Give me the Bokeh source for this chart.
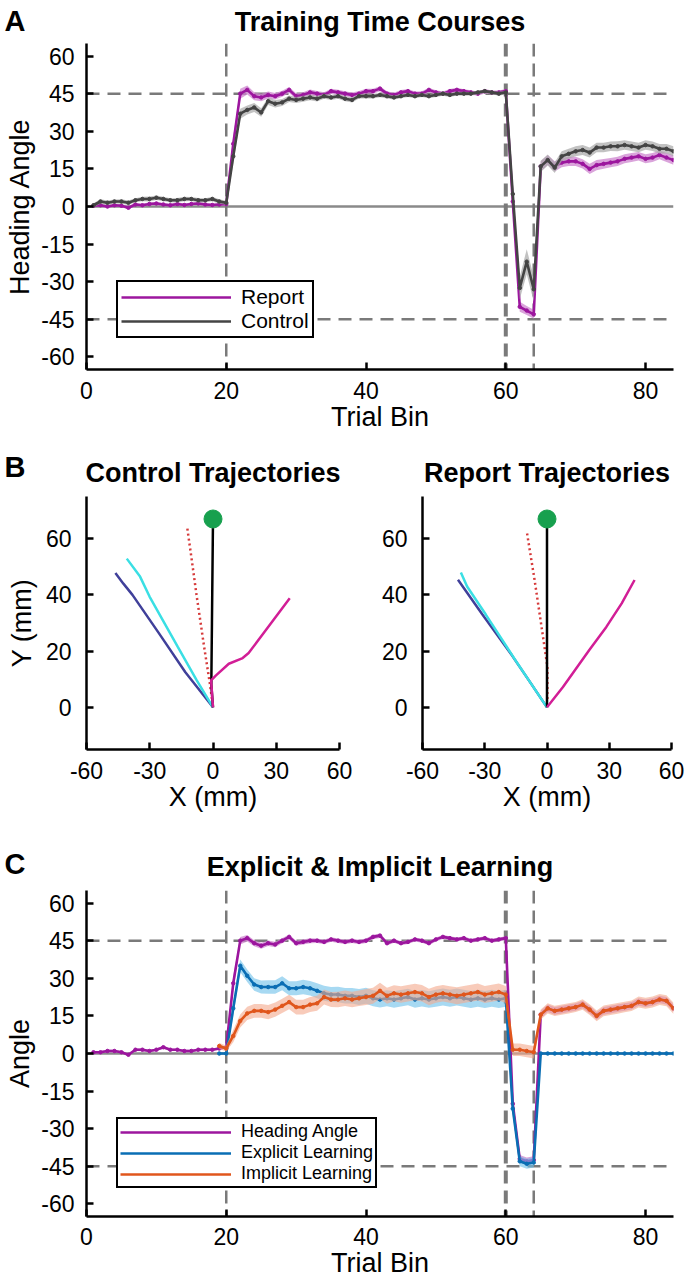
import numpy as np
from bokeh.plotting import figure
from bokeh.models import Range1d, FixedTicker, Span, Legend, LegendItem, Title
from bokeh.layouts import column, row
from bokeh.embed import file_html
from bokeh.resources import INLINE

FONT = "Liberation Sans"

# ---------------- data ----------------
bins = list(range(1, 85))
bins_learn = list(range(19, 85))

x_ticks = [0, 20, 40, 60, 80]
x_tick_labels = ["0", "20", "40", "60", "80"]
angle_ticks = [-60, -45, -30, -15, 0, 15, 30, 45, 60]
angle_tick_labels = ["-60", "-45", "-30", "-15", "0", "15", "30", "45", "60"]
phase_edges = [20, 60, 64]
target_angles = [45, -45]

# Panel A : heading angle time courses
report_A = [0.3, 0.5, 0.0, 0.5, 0.3, -0.5, 0.8, 0.5, 1.0, 1.2, 0.8, 0.5, 1.0, 0.6, 1.0, 1.2, 0.8, 0.6, 0.8, 1.0,
            25.0, 45.0, 46.5, 44.0, 43.5, 44.5, 44.0, 45.0, 46.5, 44.0, 44.5, 45.5, 45.0, 44.5, 46.0, 45.5, 45.0, 44.5, 45.0, 46.0,
            46.0, 47.0, 45.0, 44.5, 45.5, 46.0, 45.0, 45.0, 46.5, 45.5, 45.0, 46.0, 46.5, 46.0, 45.5, 45.0, 46.0, 45.5, 45.5, 46.0,
            2.0, -40.0, -41.5, -43.0,
            16.0, 18.5, 16.0, 17.5, 18.0, 18.0, 17.0, 15.0, 16.5, 17.0, 17.5, 18.0, 19.0, 19.5, 20.0, 19.0, 19.5, 20.5, 19.5, 18.5]
sem_report_A = [0.6, 0.6, 0.7, 0.6, 0.6, 0.7, 0.6, 0.6, 0.7, 0.6, 0.6, 0.6, 0.7, 0.6, 0.6, 0.6, 0.7, 0.6, 0.6, 0.7,
                3.0, 2.0, 1.8, 1.6, 1.5, 1.4, 1.3, 1.2, 1.2, 1.2, 1.1, 1.2, 1.1, 1.1, 1.0, 1.1, 1.0, 1.0, 1.1, 1.0,
                1.0, 1.0, 1.0, 0.9, 1.0, 0.9, 0.9, 1.0, 0.9, 0.9, 0.9, 0.9, 0.9, 0.8, 0.9, 0.8, 0.9, 0.8, 0.8, 0.9,
                3.0, 2.0, 1.8, 1.8,
                2.0, 2.0, 2.0, 1.8, 1.8, 1.8, 1.8, 2.0, 2.0, 1.9, 1.8, 1.8, 1.8, 1.8, 1.7, 1.8, 1.8, 1.7, 1.8, 1.9]
control_A = [0.5, 2.0, 1.5, 2.0, 2.0, 1.5, 2.5, 3.0, 3.0, 3.5, 3.0, 2.5, 2.5, 3.0, 3.0, 2.5, 2.5, 3.0, 2.0, 1.5,
             20.0, 37.0, 38.5, 39.5, 37.5, 42.0, 41.0, 41.5, 43.0, 42.5, 43.0, 43.5, 43.0, 44.0, 43.5, 44.0, 43.0, 42.5, 44.0, 44.0,
             44.0, 44.5, 44.0, 43.5, 44.0, 44.5, 44.0, 44.5, 44.0, 44.5, 45.0, 44.5, 45.0, 45.0, 45.0, 45.5, 46.0, 45.5, 45.0, 45.5,
             5.0, -32.5, -22.0, -33.0,
             16.0, 18.5, 15.5, 20.0, 21.0, 22.0, 22.5, 21.5, 23.5, 23.5, 24.0, 24.0, 24.5, 24.0, 23.5, 24.5, 24.0, 23.0, 23.0, 22.0]
sem_control_A = [0.8, 0.9, 0.9, 0.8, 0.9, 0.9, 0.8, 0.9, 1.0, 0.9, 0.9, 0.8, 0.9, 0.9, 0.8, 0.9, 0.8, 0.9, 0.9, 0.8,
                 3.0, 2.0, 1.8, 1.8, 1.7, 1.5, 1.5, 1.4, 1.3, 1.2, 1.2, 1.1, 1.1, 1.0, 1.0, 1.0, 1.0, 1.0, 0.9, 0.9,
                 0.9, 0.9, 0.9, 0.8, 0.8, 0.8, 0.8, 0.8, 0.8, 0.8, 0.8, 0.8, 0.7, 0.8, 0.7, 0.8, 0.7, 0.7, 0.8, 0.7,
                 3.0, 4.5, 5.0, 5.0,
                 2.2, 2.2, 2.1, 2.0, 2.0, 2.0, 2.0, 2.0, 1.9, 1.9, 1.9, 2.0, 1.9, 1.9, 1.9, 1.9, 1.9, 1.9, 1.9, 2.0]

# Panel B : example trajectories (mm)
ctrl_navy_x = [0.0, -13.1, -25.6, -38.2, -42.5, -46.3]
ctrl_navy_y = [0.0, 12.5, 26.3, 40.0, 44.0, 47.8]
ctrl_cyan_x = [0.0, -7.7, -16.7, -23.9, -30.1, -34.6, -40.9]
ctrl_cyan_y = [0.0, 9.6, 21.5, 31.1, 39.4, 46.5, 52.9]
ctrl_red_x = [-0.5, -1.5, -4.2, -7.7, -10.0, -12.2]
ctrl_red_y = [3.0, 8.5, 21.5, 39.4, 52.0, 63.8]
ctrl_black_x = [0.0, -0.8, -0.5, 0.0]
ctrl_black_y = [0.0, 8.0, 30.0, 67.0]
ctrl_mag_x = [0.0, -0.9, 1.3, 7.5, 13.8, 16.9, 22.7, 29.9, 36.4]
ctrl_mag_y = [0.0, 9.6, 11.3, 15.5, 17.4, 19.3, 25.1, 32.3, 38.8]

rep_navy_x = [0.0, -8.0, -16.9, -31.3, -42.9]
rep_navy_y = [0.0, 8.8, 18.5, 33.2, 45.4]
rep_cyan_x = [0.0, -15.0, -29.5, -38.5, -41.5]
rep_cyan_y = [0.0, 16.5, 33.0, 43.0, 48.0]
rep_red_x = [0.2, 0.2, -2.4, -6.0, -9.7]
rep_red_y = [3.0, 14.4, 27.5, 45.4, 62.3]
rep_black_x = [0.0, 0.0]
rep_black_y = [0.0, 67.0]
rep_mag_x = [0.0, 7.7, 20.3, 28.6, 36.0, 42.2]
rep_mag_y = [0.0, 7.2, 20.3, 28.6, 37.0, 45.3]

target_x = [0.0]
target_y = [67.0]

traj_x_ticks = [-60, -30, 0, 30, 60]
traj_x_labels = ["-60", "-30", "0", "30", "60"]
traj_y_ticks = [0, 20, 40, 60]
traj_y_labels = ["0", "20", "40", "60"]

# Panel C : explicit & implicit learning
heading_C = [0.5, 0.5, 1.0, 1.0, 0.5, -0.5, 1.5, 1.5, 1.0, 1.5, 2.5, 1.5, 1.5, 1.0, 1.0, 1.5, 1.5, 1.5, 2.0, 2.5,
             28.0, 45.0, 46.0, 44.0, 43.0, 44.0, 43.5, 45.0, 46.5, 44.0, 44.5, 45.0, 45.0, 44.5, 45.5, 45.0, 44.5, 45.0, 44.5, 45.0,
             46.5, 47.0, 44.0, 45.0, 44.0, 44.5, 45.5, 45.0, 44.0, 45.5, 46.5, 46.0, 45.5, 46.0, 45.0, 45.5, 46.0, 45.0, 45.5, 46.0,
             -20.0, -42.0, -43.0, -42.5,
             15.5, 18.0, 17.0, 17.5, 18.0, 18.5, 19.5, 17.5, 15.0, 17.0, 17.5, 18.0, 18.5, 19.0, 20.5, 20.0, 20.5, 21.5, 21.0, 18.0]
sem_heading_C = [0.5, 0.5, 0.6, 0.5, 0.5, 0.6, 0.5, 0.6, 0.5, 0.5, 0.6, 0.5, 0.5, 0.6, 0.5, 0.5, 0.6, 0.5, 0.5, 0.6,
                 3.0, 1.5, 1.3, 1.2, 1.2, 1.1, 1.1, 1.0, 1.0, 1.0, 1.0, 1.0, 0.9, 0.9, 0.9, 0.9, 0.9, 0.9, 0.9, 0.9,
                 0.9, 0.9, 0.9, 0.8, 0.8, 0.8, 0.8, 0.8, 0.8, 0.8, 0.8, 0.8, 0.8, 0.8, 0.8, 0.8, 0.8, 0.8, 0.8, 0.8,
                 3.0, 1.5, 1.5, 1.5,
                 1.5, 1.5, 1.5, 1.5, 1.5, 1.5, 1.5, 1.5, 1.5, 1.5, 1.5, 1.5, 1.5, 1.5, 1.5, 1.5, 1.5, 1.5, 1.5, 1.5]
explicit_C = [0.0, 0.0,
              18.0, 35.0, 31.0, 27.5, 26.5, 26.5, 26.5, 28.0, 26.0, 26.0, 26.5, 26.0, 25.0, 24.0, 23.5, 23.5, 23.0, 23.0, 22.5, 23.0,
              22.0, 21.5, 22.0, 21.5, 22.0, 22.5, 21.5, 22.0, 21.5, 22.0, 22.5, 22.0, 22.5, 22.0, 21.5, 22.0, 21.5, 22.0, 21.5, 22.0,
              -22.0, -43.0, -44.0, -43.5,
              0.0, 0.0, 0.0, 0.0, 0.0, 0.0, 0.0, 0.0, 0.0, 0.0, 0.0, 0.0, 0.0, 0.0, 0.0, 0.0, 0.0, 0.0, 0.0, 0.0]
sem_explicit_C = [0.3, 0.3,
                  3.0, 2.5, 2.5, 2.5, 2.6, 2.7, 2.7, 2.8, 2.8, 2.8, 2.9, 2.9, 3.0, 3.0, 3.0, 3.1, 3.1, 3.1, 3.2, 3.2,
                  3.2, 3.2, 3.2, 3.3, 3.3, 3.3, 3.3, 3.3, 3.3, 3.4, 3.4, 3.4, 3.4, 3.4, 3.4, 3.4, 3.4, 3.4, 3.4, 3.4,
                  3.0, 2.0, 2.0, 2.0,
                  0.0, 0.0, 0.0, 0.0, 0.0, 0.0, 0.0, 0.0, 0.0, 0.0, 0.0, 0.0, 0.0, 0.0, 0.0, 0.0, 0.0, 0.0, 0.0, 0.0]
implicit_C = [3.0, 2.0,
              7.0, 13.0, 16.0, 17.0, 17.0, 16.5, 17.5, 19.0, 20.5, 18.5, 18.5, 19.5, 20.0, 22.5, 21.5, 21.5, 22.0, 21.5, 22.0, 22.5,
              23.0, 25.0, 23.0, 24.0, 23.5, 24.0, 24.5, 24.0, 22.5, 23.5, 24.0, 23.5, 23.0, 23.5, 24.0, 24.5, 23.5, 24.0, 24.5, 23.5,
              1.5, 1.5, 1.0, 0.5,
              15.5, 18.0, 17.0, 17.5, 18.0, 18.5, 19.5, 17.5, 15.0, 17.0, 17.5, 18.0, 18.5, 19.0, 20.5, 20.0, 20.5, 21.5, 21.0, 18.0]
sem_implicit_C = [1.2, 1.2,
                  2.5, 2.6, 2.6, 2.7, 2.7, 2.8, 2.8, 2.8, 2.9, 2.9, 2.9, 3.0, 3.0, 3.0, 3.0, 3.1, 3.1, 3.1, 3.1, 3.2,
                  3.2, 3.2, 3.2, 3.2, 3.3, 3.3, 3.3, 3.3, 3.3, 3.3, 3.3, 3.3, 3.4, 3.4, 3.4, 3.4, 3.4, 3.4, 3.4, 3.4,
                  2.5, 2.5, 2.5, 2.5,
                  2.0, 2.0, 2.0, 2.0, 2.0, 2.0, 2.1, 2.1, 2.1, 2.1, 2.1, 2.1, 2.1, 2.1, 2.2, 2.2, 2.2, 2.2, 2.2, 2.2]

# ---------------- styles ----------------
PURPLE = "#9C169E"
PURPLE_BAND = "#CE86CF"
GRAY = "#444444"
GRAY_BAND = "#A8A8A8"
BLUE = "#0A6EB4"
BLUE_BAND = "#6CC0EA"
ORANGE = "#E0561C"
ORANGE_BAND = "#F3A98C"
REF_GRAY = "#7A7A7A"


def style_axes(p, xticks, xlabels, yticks, ylabels, xlabel, ylabel, ylabel_standoff, ytick_standoff, xtick_standoff):
    p.xgrid.visible = False
    p.ygrid.visible = False
    p.outline_line_color = None
    p.background_fill_color = "white"
    p.border_fill_color = "white"
    for ax in (p.xaxis[0], p.yaxis[0]):
        ax.axis_line_width = 2.5
        ax.axis_line_color = "black"
        ax.major_tick_in = 7
        ax.major_tick_out = 0
        ax.minor_tick_in = 0
        ax.minor_tick_out = 0
        ax.major_tick_line_width = 2.5
        ax.major_tick_line_color = "black"
        ax.major_label_text_font = FONT
        ax.major_label_text_font_size = "23px"
        ax.major_label_text_color = "black"
        ax.axis_label_text_font = FONT
        ax.axis_label_text_font_size = "27px"
        ax.axis_label_text_font_style = "normal"
        ax.axis_label_text_color = "black"
    p.xaxis[0].ticker = FixedTicker(ticks=xticks)
    p.xaxis[0].major_label_overrides = dict(zip(xticks, xlabels))
    p.yaxis[0].ticker = FixedTicker(ticks=yticks)
    p.yaxis[0].major_label_overrides = dict(zip(yticks, ylabels))
    p.xaxis[0].axis_label = xlabel
    p.xaxis[0].major_label_standoff = xtick_standoff
    p.xaxis[0].axis_label_standoff = 0
    if ylabel:
        p.yaxis[0].axis_label = ylabel
    p.yaxis[0].major_label_standoff = ytick_standoff
    p.yaxis[0].axis_label_standoff = ylabel_standoff


def style_title(p, text, standoff):
    p.title.text = text
    p.title.align = "center"
    p.title.vertical_align = "bottom"
    p.title.text_font = FONT
    p.title.text_font_size = "27px"
    p.title.text_font_style = "bold"
    p.title.text_color = "black"
    p.title.standoff = standoff


def panel_letter(p, letter, standoff, valign):
    # panel letter as an extra title row, drawn left of the frame
    p.add_layout(Title(text=letter, align="left", vertical_align=valign, offset=-82, standoff=standoff,
                       text_font=FONT, text_font_size="29px", text_font_style="bold",
                       text_color="black"), "above")


def add_reference_lines(p):
    p.add_layout(Span(location=0, dimension="width", line_color="#8A8A8A", line_width=2.5, level="underlay"))
    for yv in target_angles:
        p.add_layout(Span(location=yv, dimension="width", line_color=REF_GRAY, line_width=2.5,
                          line_dash="13 8", level="underlay"))
    for xv in phase_edges:
        p.add_layout(Span(location=xv, dimension="height", line_color=REF_GRAY,
                          line_width=4 if xv == 60 else 2.5, line_dash="13 7", level="underlay"))


def series(p, x, y, sem, color, band, band_alpha):
    xa = np.array(x, dtype=float)
    ya = np.array(y, dtype=float)
    sa = np.array(sem, dtype=float)
    p.varea(x=xa, y1=ya - sa, y2=ya + sa, fill_color=band, fill_alpha=band_alpha)
    ln = p.line(xa, ya, line_color=color, line_width=2.6)
    p.scatter(xa, ya, size=3.5, marker="circle", fill_color=color, line_color=color)
    return ln


def make_legend(items, font_size, padding, glyph_w, loc):
    return Legend(items=items, location=loc, orientation="vertical",
                  border_line_color="black", border_line_width=2.5, border_line_alpha=1,
                  background_fill_color="white", background_fill_alpha=1,
                  label_text_font=FONT, label_text_font_size=font_size, label_text_color="black",
                  glyph_width=glyph_w, glyph_height=14, label_height=14, label_standoff=10,
                  padding=padding, spacing=0, margin=0)


# ---------------- Panel A ----------------
pA = figure(width=688, height=440, x_range=Range1d(0, 84), y_range=Range1d(-65, 65),
            output_backend="svg", toolbar_location=None,
            min_border_left=86, min_border_right=15, min_border_top=43, min_border_bottom=71)
style_axes(pA, x_ticks, x_tick_labels, angle_ticks, angle_tick_labels, "Trial Bin", "Heading Angle", 3, 12, 12)
style_title(pA, "Training Time Courses", -73.4)
panel_letter(pA, "A", 8.6, "top")
add_reference_lines(pA)
rl = series(pA, bins, report_A, sem_report_A, PURPLE, PURPLE_BAND, 0.75)
cl = series(pA, bins, control_A, sem_control_A, GRAY, GRAY_BAND, 0.7)
pA.add_layout(make_legend([LegendItem(label="Report", renderers=[rl]),
                           LegendItem(label="Control", renderers=[cl])],
                          "21px", 3, 110, (30, 31)))

# ---------------- Panel B ----------------
def traj_fig(width, left, right, title, ylabel, title_standoff):
    p = figure(width=width, height=380, x_range=Range1d(-60, 60), y_range=Range1d(-15, 75),
               output_backend="svg", toolbar_location=None,
               min_border_left=left, min_border_right=right, min_border_top=56, min_border_bottom=71)
    style_axes(p, traj_x_ticks, traj_x_labels, traj_y_ticks, traj_y_labels, "X (mm)", ylabel, 6, 15, 12)
    style_title(p, title, title_standoff)
    return p


def draw_traj(p, nx, ny, cx, cy, rx, ry, bx, by, mx, my):
    p.line(nx, ny, line_color="#40409A", line_width=2.5)
    p.line(cx, cy, line_color="#3ADFE4", line_width=2.5)
    p.line(rx, ry, line_color="#D63A3A", line_width=2.5, line_dash="2 3")
    p.line(bx, by, line_color="black", line_width=2.5)
    p.line(mx, my, line_color="#D21E96", line_width=2.5)
    p.scatter(target_x, target_y, size=18, marker="circle", fill_color="#17A04E", line_color="#17A04E")


pB1 = traj_fig(378, 86, 39, "Control Trajectories", "Y (mm)", -95.4)
panel_letter(pB1, "B", 21.6, "top")
draw_traj(pB1, ctrl_navy_x, ctrl_navy_y, ctrl_cyan_x, ctrl_cyan_y, ctrl_red_x, ctrl_red_y,
          ctrl_black_x, ctrl_black_y, ctrl_mag_x, ctrl_mag_y)

pB2 = traj_fig(310, 41, 17, "Report Trajectories", None, 16.6)
draw_traj(pB2, rep_navy_x, rep_navy_y, rep_cyan_x, rep_cyan_y, rep_red_x, rep_red_y,
          rep_black_x, rep_black_y, rep_mag_x, rep_mag_y)

# ---------------- Panel C ----------------
pC = figure(width=688, height=460, x_range=Range1d(0, 84), y_range=Range1d(-65, 65),
            output_backend="svg", toolbar_location=None,
            min_border_left=86, min_border_right=15, min_border_top=70, min_border_bottom=64)
style_axes(pC, x_ticks, x_tick_labels, angle_ticks, angle_tick_labels, "Trial Bin", "Angle", 3, 12, 11)
style_title(pC, "Explicit & Implicit Learning", -95.8)
panel_letter(pC, "C", 21.8, "bottom")
add_reference_lines(pC)
hl = series(pC, bins, heading_C, sem_heading_C, PURPLE, PURPLE_BAND, 0.75)
el = series(pC, bins_learn, explicit_C, sem_explicit_C, BLUE, BLUE_BAND, 0.6)
il = series(pC, bins_learn, implicit_C, sem_implicit_C, ORANGE, ORANGE_BAND, 0.6)
pC.add_layout(make_legend([LegendItem(label="Heading Angle", renderers=[hl]),
                           LegendItem(label="Explicit Learning", renderers=[el]),
                           LegendItem(label="Implicit Learning", renderers=[il])],
                          "18px", 2, 111, (30, 28)))

layout = column(pA, row(pB1, pB2), pC)
open("out.html", "w").write(file_html(layout, INLINE))
